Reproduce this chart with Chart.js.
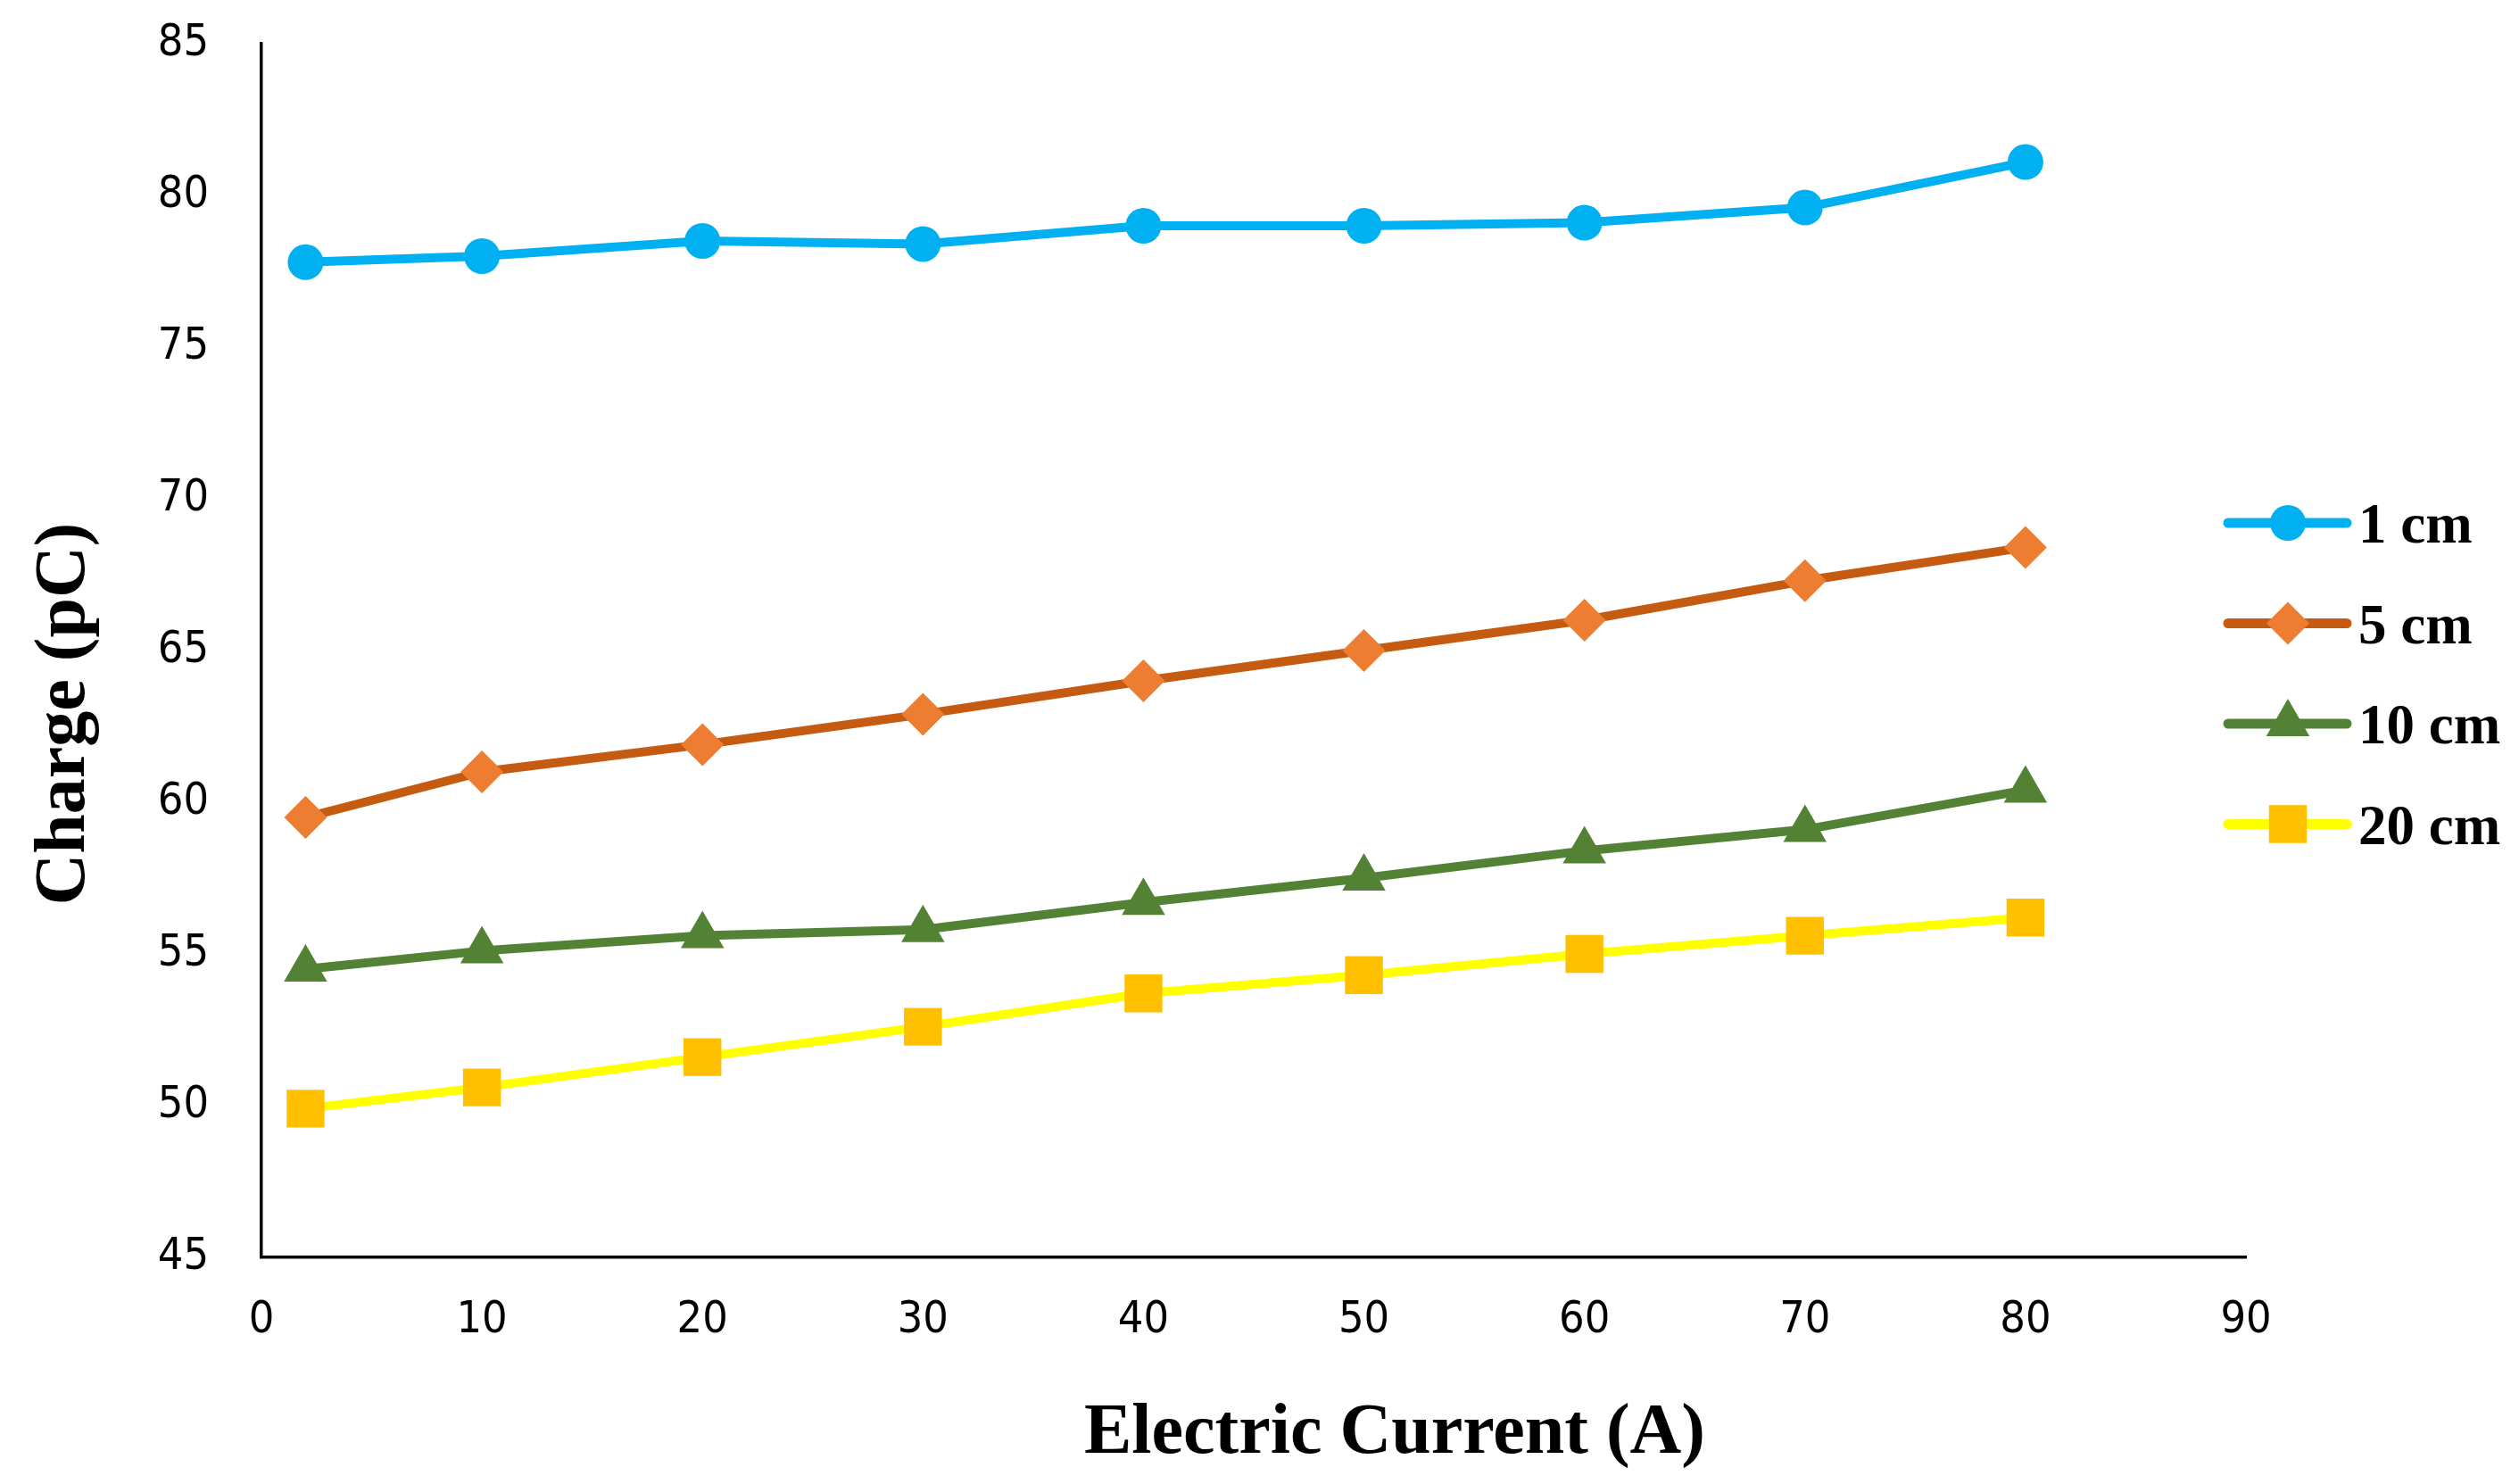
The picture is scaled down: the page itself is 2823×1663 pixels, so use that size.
<!DOCTYPE html>
<html>
<head>
<meta charset="utf-8">
<script src="https://cdn.jsdelivr.net/npm/chart.js@4.4.1/dist/chart.umd.min.js"></script>
<style>
  html, body { margin: 0; padding: 0; background: #fff; }
  #wrap { width: 2823px; height: 1663px; }
  canvas { display: block; }
</style>
</head>
<body>
<div id="wrap"><canvas id="myChart" width="2823" height="1663"></canvas></div>
<script>
// values
const current = [2, 10, 20, 30, 40, 50, 60, 70, 80]
const charge1cm = [77.8, 78.0, 78.5, 78.4, 79.0, 79.0, 79.1, 79.6, 81.1]
const charge5cm = [59.5, 61.0, 61.9, 62.9, 64.0, 65.0, 66.0, 67.3, 68.4]
const charge10cm = [54.5, 55.1, 55.6, 55.8, 56.7, 57.5, 58.4, 59.1, 60.4]
const charge20cm = [49.9, 50.6, 51.6, 52.6, 53.7, 54.3, 55.0, 55.6, 56.2]
const seriesNames = ['1 cm', '5 cm', '10 cm', '20 cm']
const xTicks = [0, 10, 20, 30, 40, 50, 60, 70, 80, 90]
const yTicks = [45, 50, 55, 60, 65, 70, 75, 80, 85]
const xTitle = 'Electric Current (A)'
const yTitle = 'Charge (pC)'

const serif = '"Liberation Serif", "Times New Roman", serif'
const tickFont = '"Liberation Sans Narrow", "Arial Narrow", "DejaVu Sans Condensed", sans-serif'

function toPoints(ys) {
    return current.map((x, i) => ({x: x, y: ys[i]}))
}

function makeSet(label, ys, line, marker, style, radius) {
    return {
        label: label,
        data: toPoints(ys),
        borderColor: line,
        backgroundColor: marker,
        pointBackgroundColor: marker,
        pointBorderWidth: 0,
        pointStyle: style,
        pointRadius: radius,
        borderWidth: 10,
        borderJoinStyle: 'round',
        borderCapStyle: 'round',
        tension: 0,
        fill: false
    }
}

// axis titles and the line+marker legend, drawn on top
const overlay = {
    id: 'overlay',
    afterDraw(chart) {
        const ctx = chart.ctx
        ctx.save()
        ctx.fillStyle = '#000'
        ctx.font = 'bold 80px ' + serif
        ctx.textAlign = 'center'
        ctx.textBaseline = 'alphabetic'
        ctx.fillText(xTitle, 1563, 1628)
        ctx.save()
        ctx.translate(94, 800)
        ctx.rotate(-Math.PI / 2)
        ctx.fillText(yTitle, 0, 0)
        ctx.restore()

        chart.data.datasets.forEach((ds, i) => {
            const y = 586 + i * 112.5
            ctx.strokeStyle = ds.borderColor
            ctx.lineWidth = 11
            ctx.lineCap = 'round'
            ctx.beginPath()
            ctx.moveTo(2497, y)
            ctx.lineTo(2630, y)
            ctx.stroke()
            ctx.fillStyle = ds.pointBackgroundColor
            if (Chart.helpers && Chart.helpers.drawPoint) {
                Chart.helpers.drawPoint(ctx, {pointStyle: ds.pointStyle, radius: ds.pointRadius, rotation: 0, borderWidth: 0}, 2564, y)
            } else {
                ctx.beginPath()
                ctx.arc(2564, y, ds.pointRadius, 0, Math.PI * 2)
                ctx.fill()
            }
            ctx.fillStyle = '#000'
            ctx.font = 'bold 63px ' + serif
            ctx.textAlign = 'left'
            ctx.fillText(ds.label, 2643, y + 22)
        })
        ctx.restore()
    }
}

function createChart() {
    const ctx = document.getElementById('myChart')
    new Chart(ctx, {
        type: 'line',
        data: {
            datasets: [
                makeSet(seriesNames[0], charge1cm, '#00B0F0', '#00B0F0', 'circle', 20),
                makeSet(seriesNames[1], charge5cm, '#C55A11', '#ED7D31', 'rectRot', 24),
                makeSet(seriesNames[2], charge10cm, '#548235', '#548235', 'triangle', 28),
                makeSet(seriesNames[3], charge20cm, '#FFFF00', '#FFC000', 'rect', 30)
            ]
        },
        options: {
            responsive: false,
            devicePixelRatio: 1,
            animation: false,
            layout: { padding: { left: 0, top: 49, right: 306, bottom: 0 } },
            plugins: {
                legend: { display: false },
                tooltip: { enabled: false }
            },
            scales: {
                x: {
                    type: 'linear',
                    min: xTicks[0],
                    max: xTicks[xTicks.length - 1],
                    afterBuildTicks: (scale) => { scale.ticks = xTicks.map(v => ({value: v})) },
                    afterFit: (scale) => {
                        scale.height = 254
                        scale.paddingLeft = 0
                        scale.paddingRight = 0
                    },
                    grid: { display: false, drawTicks: false },
                    border: { display: true, color: '#000', width: 3.5 },
                    ticks: { color: '#000', padding: 41, maxRotation: 0, font: { family: tickFont, size: 50 } },
                    title: { display: false }
                },
                y: {
                    min: yTicks[0],
                    max: yTicks[yTicks.length - 1],
                    afterBuildTicks: (scale) => { scale.ticks = yTicks.map(v => ({value: v})) },
                    afterFit: (scale) => {
                        scale.width = 293
                        scale.paddingTop = 0
                        scale.paddingBottom = 0
                    },
                    grid: { display: false, drawTicks: false },
                    border: { display: true, color: '#000', width: 3.5 },
                    ticks: { color: '#000', padding: 59, font: { family: tickFont, size: 50 } },
                    title: { display: false }
                }
            }
        },
        plugins: [overlay]
    })
}

createChart()
</script>
</body>
</html>
